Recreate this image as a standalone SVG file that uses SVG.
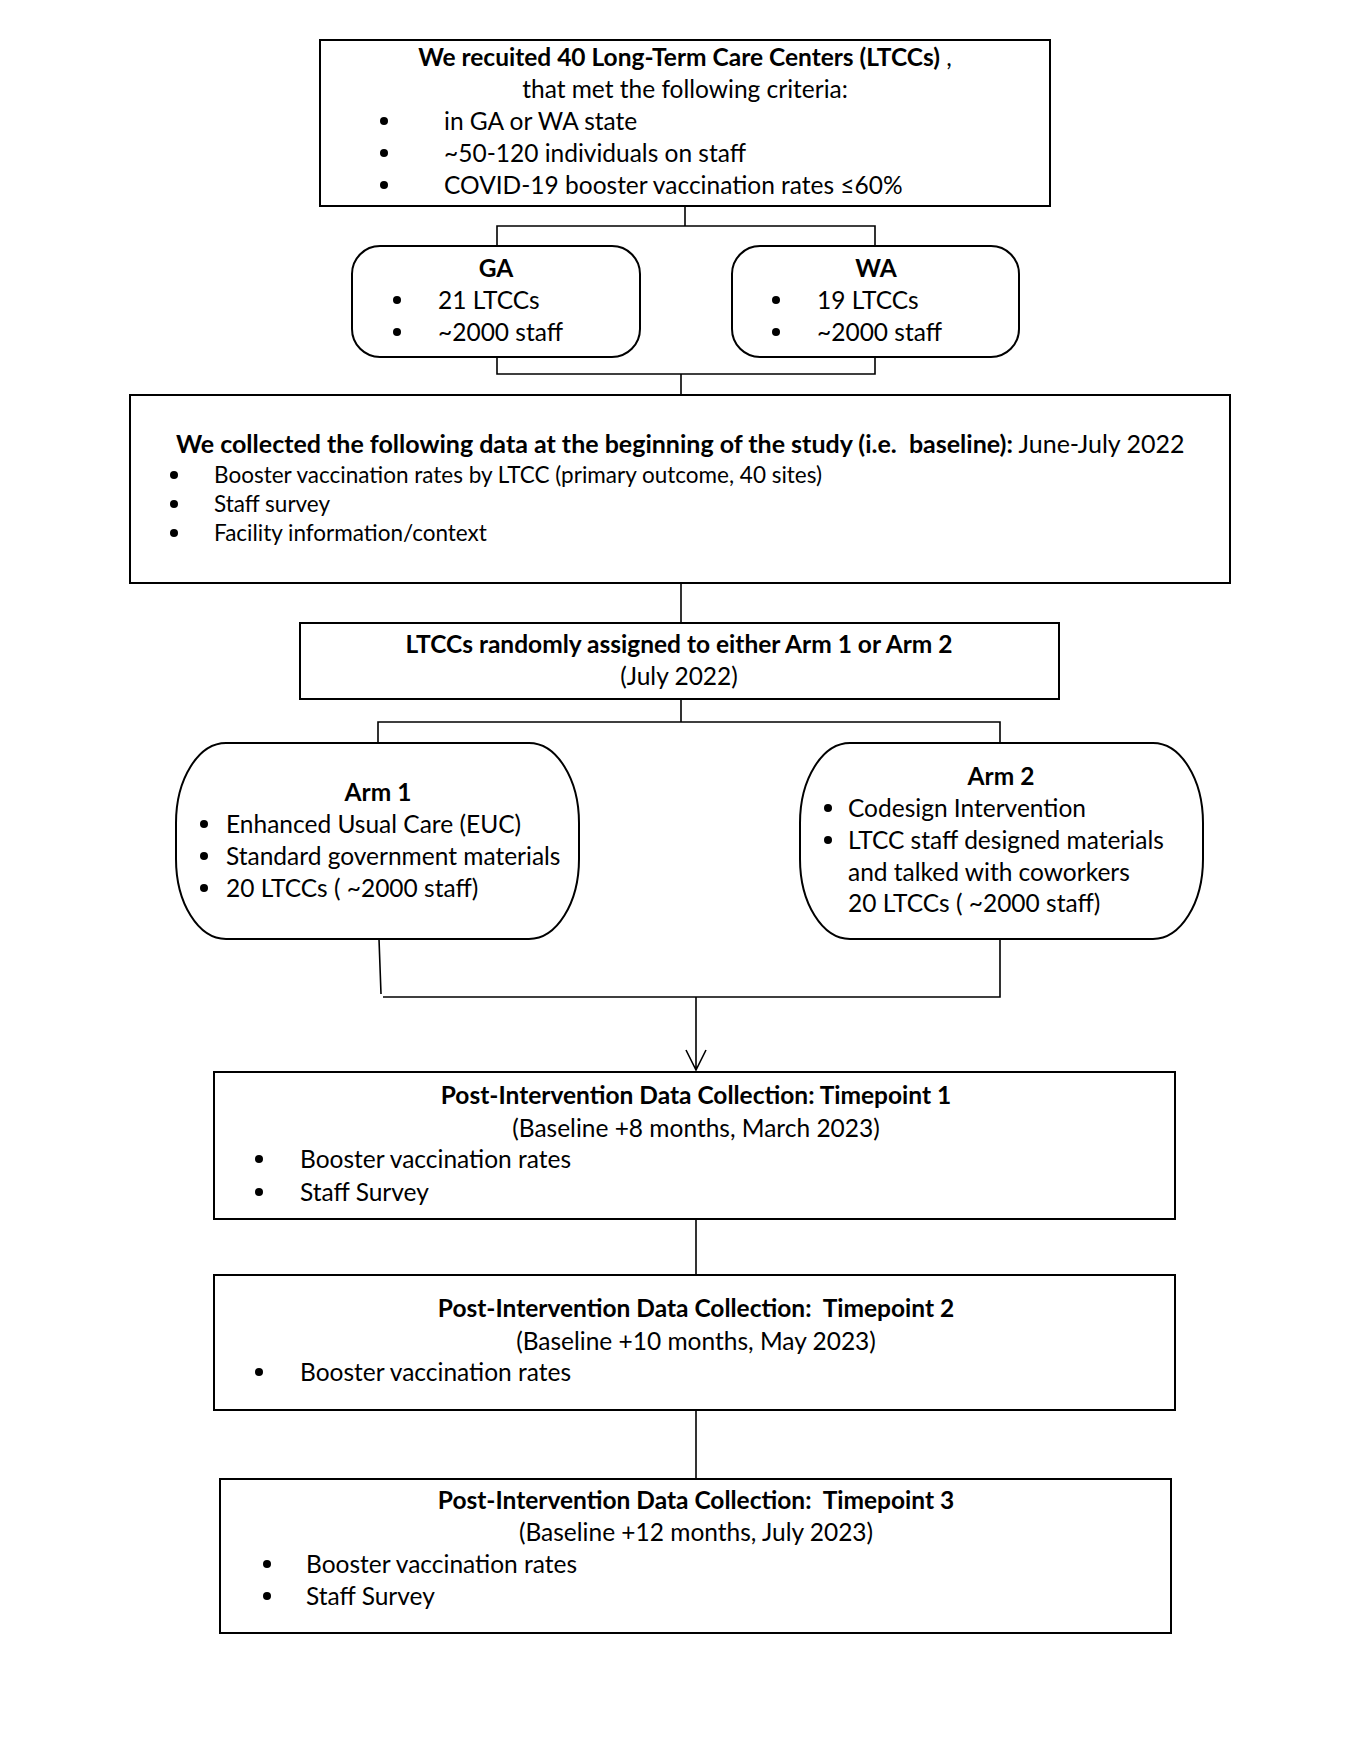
<svg xmlns="http://www.w3.org/2000/svg" width="1360" height="1760" viewBox="0 0 1360 1760">
<style>
.box{fill:#fff;stroke:#000;stroke-width:2}
.con{fill:none;stroke:#000;stroke-width:1.6}
text{font-family:Lato,"Liberation Sans",sans-serif;font-size:24.5px;fill:#000}
.b{font-weight:bold}
.c{text-anchor:middle}
.s{font-size:22.5px}
.h{font-size:25px}
.dot{fill:#000}
</style>
<g id="connectors">
<path class="con" d="M685 206V226M497 246V226H875V246"/>
<path class="con" d="M497 357V374H875V357M681 374V395"/>
<path class="con" d="M681 583V623"/>
<path class="con" d="M681 699V722M378 743V722H1000V743"/>
<path class="con" d="M379 939L381 994M383 997H1000V939"/>
<path class="con" d="M696 997V1070M686 1050L696 1070L706 1050"/>
<path class="con" d="M696 1219V1275"/>
<path class="con" d="M696 1410V1479"/>
</g>
<g id="recruit">
<rect class="box" x="320" y="40" width="730" height="166"/>
<text class="c b" x="685" y="66">We recuited 40 Long-Term Care Centers (LTCCs)<tspan font-weight="normal"> ,</tspan></text>
<text class="c" x="685" y="98">that met the following criteria:</text>
<circle class="dot" cx="384" cy="121" r="4"/><text x="444" y="130">in GA or WA state</text>
<circle class="dot" cx="384" cy="153" r="4"/><text x="444" y="162">~50-120 individuals on staff</text>
<circle class="dot" cx="384" cy="185" r="4"/><text x="444" y="194">COVID-19 booster vaccination rates ≤60%</text>
</g>
<g id="ga">
<rect class="box" x="352" y="246" width="288" height="111" rx="28"/>
<text class="c b" x="496" y="277">GA</text>
<circle class="dot" cx="397" cy="300" r="4"/><text x="438" y="309">21 LTCCs</text>
<circle class="dot" cx="397" cy="332" r="4"/><text x="438" y="341">~2000 staff</text>
</g>
<g id="wa">
<rect class="box" x="732" y="246" width="287" height="111" rx="28"/>
<text class="c b" x="876" y="277">WA</text>
<circle class="dot" cx="776" cy="300" r="4"/><text x="817" y="309">19 LTCCs</text>
<circle class="dot" cx="776" cy="332" r="4"/><text x="817" y="341">~2000 staff</text>
</g>
<g id="baseline">
<rect class="box" x="130" y="395" width="1100" height="188"/>
<text class="h" x="176" y="453"><tspan class="b">We collected the following data at the beginning of the study (i.e.&#160; baseline):</tspan> June-July 2022</text>
<circle class="dot" cx="174" cy="475" r="4"/><text class="s" x="214" y="483">Booster vaccination rates by LTCC (primary outcome, 40 sites)</text>
<circle class="dot" cx="174" cy="504" r="4"/><text class="s" x="214" y="512">Staff survey</text>
<circle class="dot" cx="174" cy="533" r="4"/><text class="s" x="214" y="541">Facility information/context</text>
</g>
<g id="random">
<rect class="box" x="300" y="623" width="759" height="76"/>
<text class="c b" x="679" y="653">LTCCs randomly assigned to either Arm 1 or Arm 2</text>
<text class="c" x="679" y="685">(July 2022)</text>
</g>
<g id="arm1">
<rect class="box" x="176" y="743" width="403" height="196" rx="50" ry="80"/>
<text class="c b" x="378" y="801">Arm 1</text>
<circle class="dot" cx="204" cy="824" r="4"/><text x="226" y="833">Enhanced Usual Care (EUC)</text>
<circle class="dot" cx="204" cy="856" r="4"/><text x="226" y="865">Standard government materials</text>
<circle class="dot" cx="204" cy="888" r="4"/><text x="226" y="897">20 LTCCs ( ~2000 staff)</text>
</g>
<g id="arm2">
<rect class="box" x="800" y="743" width="403" height="196" rx="50" ry="80"/>
<text class="c b" x="1001" y="785">Arm 2</text>
<circle class="dot" cx="828" cy="808" r="4"/><text x="848" y="817">Codesign Intervention</text>
<circle class="dot" cx="828" cy="840" r="4"/><text x="848" y="849">LTCC staff designed materials</text>
<text x="848" y="881">and talked with coworkers</text>
<text x="848" y="912">20 LTCCs ( ~2000 staff)</text>
</g>
<g id="tp1">
<rect class="box" x="214" y="1072" width="961" height="147"/>
<text class="c b" x="696" y="1104">Post-Intervention Data Collection: Timepoint 1</text>
<text class="c" x="696" y="1137">(Baseline +8 months, March 2023)</text>
<circle class="dot" cx="259" cy="1159" r="4"/><text x="300" y="1168">Booster vaccination rates</text>
<circle class="dot" cx="259" cy="1192" r="4"/><text x="300" y="1201">Staff Survey</text>
</g>
<g id="tp2">
<rect class="box" x="214" y="1275" width="961" height="135"/>
<text class="c b" x="696" y="1317">Post-Intervention Data Collection:&#160; Timepoint 2</text>
<text class="c" x="696" y="1350">(Baseline +10 months, May 2023)</text>
<circle class="dot" cx="259" cy="1372" r="4"/><text x="300" y="1381">Booster vaccination rates</text>
</g>
<g id="tp3">
<rect class="box" x="220" y="1479" width="951" height="154"/>
<text class="c b" x="696" y="1509">Post-Intervention Data Collection:&#160; Timepoint 3</text>
<text class="c" x="696" y="1541">(Baseline +12 months, July 2023)</text>
<circle class="dot" cx="267" cy="1564" r="4"/><text x="306" y="1573">Booster vaccination rates</text>
<circle class="dot" cx="267" cy="1596" r="4"/><text x="306" y="1605">Staff Survey</text>
</g>
</svg>
